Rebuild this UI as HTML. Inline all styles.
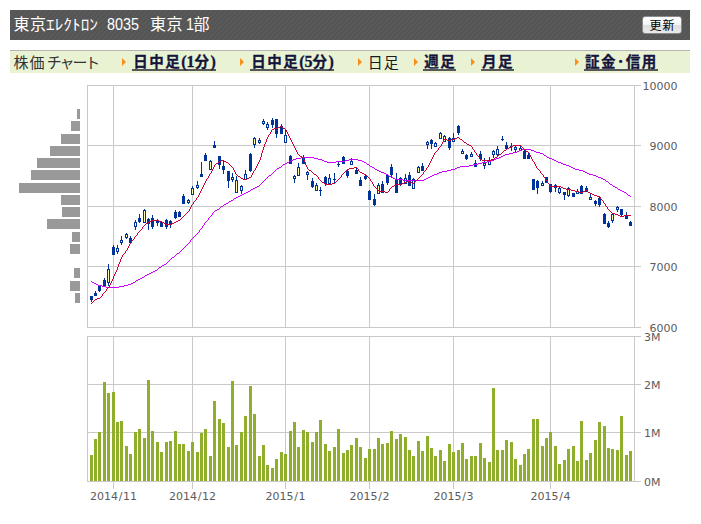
<!DOCTYPE html>
<html lang="ja"><head><meta charset="utf-8"><title>東京エレクトロン 8035 株価チャート</title>
<style>
html,body{margin:0;padding:0;background:#fff;}
body{width:701px;height:524px;position:relative;overflow:hidden;font-family:"Liberation Serif","Noto Sans CJK JP",serif;}
.hd{position:absolute;left:10px;top:10px;width:680px;height:30px;background:#595959;background-image:repeating-linear-gradient(135deg,rgba(0,0,0,0) 0,rgba(0,0,0,0) 2.83px,rgba(0,0,0,.11) 2.83px,rgba(0,0,0,.11) 3.536px);}
.hd span{position:absolute;top:0;line-height:30px;color:#fff;font-size:15px;white-space:nowrap;font-family:"Liberation Sans","Noto Sans CJK JP",sans-serif;}
.btn{position:absolute;left:632px;top:6px;width:38px;height:16px;letter-spacing:1px;text-indent:1px;border:1px solid #8a8a8a;border-radius:3px;background:linear-gradient(#ffffff,#f4f4f4 50%,#dedede 51%,#e9e9e9);color:#000;font-size:12px;line-height:18px;text-align:center;font-family:"Liberation Sans","Noto Sans CJK JP",sans-serif;}
.nav{position:absolute;left:10px;top:50px;width:680px;height:22px;border-top:1px solid #b5b5b5;background:#e9f3d3;}
.nav span{position:absolute;top:1.3px;line-height:20px;white-space:nowrap;font-size:14.5px;letter-spacing:1.5px;}
.nav .t{font-size:15px;letter-spacing:1px;margin-top:0.4px;color:#333;font-family:"Liberation Sans","Noto Sans CJK JP",sans-serif;}
.nav a{color:#14143c;font-weight:bold;-webkit-text-stroke:0.3px #14143c;text-decoration:none;display:inline-block;height:16.5px;border-bottom:2px solid #585858;padding-left:1px;margin-left:-1px;}
.nav a b{letter-spacing:0;font-size:16px;}
.nav i{position:absolute;width:0;height:0;border-left:4.4px solid #f7901a;border-top:4.3px solid transparent;border-bottom:4.3px solid transparent;top:7px;}
</style></head><body>
<div class="hd"><span style="left:3.5px;font-size:16px;letter-spacing:0.5px">東京</span><span style="left:35.6px;font-size:15px;transform-origin:0 50%;transform:scaleX(1.155)">ｴﾚｸﾄﾛﾝ</span><span style="left:97.2px;font-size:16px;transform-origin:0 50%;transform:scaleX(.9)">8035</span><span style="left:140px;font-size:16px;letter-spacing:0.5px">東京</span><span style="left:176px;font-size:16px;transform-origin:0 50%;transform:scaleX(.9)">1</span><span style="left:183.5px;font-size:16px">部</span><div class="btn">更新</div></div>
<div class="nav">
<span class="t" style="left:3.5px">株価</span><span class="t" style="left:36.8px;letter-spacing:-2.1px">チャート</span>
<i style="left:112px"></i><span style="left:123.2px"><a>日中足<b>(1</b>分<b>)</b></a></span>
<i style="left:230px"></i><span style="left:241.2px"><a>日中足<b>(5</b>分<b>)</b></a></span>
<i style="left:348px"></i><span class="t" style="left:357.8px;color:#1c1c1c">日足</span>
<i style="left:403.6px"></i><span style="left:414.3px"><a>週足</a></span>
<i style="left:461px"></i><span style="left:472px"><a>月足</a></span>
<i style="left:565.2px"></i><span style="left:575px"><a>証金･信用</a></span>
</div>
<svg width="701" height="524" viewBox="0 0 701 524" style="position:absolute;left:0;top:0">
<g shape-rendering="crispEdges" stroke="#c9c9c9" stroke-width="1" fill="none">
<line x1="87" y1="85.5" x2="641" y2="85.5"/>
<line x1="87" y1="145.5" x2="641" y2="145.5"/>
<line x1="87" y1="206.5" x2="641" y2="206.5"/>
<line x1="87" y1="266.5" x2="641" y2="266.5"/>
<line x1="87" y1="327.5" x2="641" y2="327.5"/>
<line x1="87" y1="336.5" x2="641" y2="336.5"/>
<line x1="87" y1="384.5" x2="641" y2="384.5"/>
<line x1="87" y1="432.5" x2="641" y2="432.5"/>
<line x1="87" y1="481.5" x2="641" y2="481.5"/>
<line x1="87.5" y1="85" x2="87.5" y2="328"/>
<line x1="87.5" y1="336" x2="87.5" y2="482"/>
<line x1="113.5" y1="85" x2="113.5" y2="328"/>
<line x1="113.5" y1="336" x2="113.5" y2="482"/>
<line x1="192.5" y1="85" x2="192.5" y2="328"/>
<line x1="192.5" y1="336" x2="192.5" y2="482"/>
<line x1="285.5" y1="85" x2="285.5" y2="328"/>
<line x1="285.5" y1="336" x2="285.5" y2="482"/>
<line x1="369.5" y1="85" x2="369.5" y2="328"/>
<line x1="369.5" y1="336" x2="369.5" y2="482"/>
<line x1="453.5" y1="85" x2="453.5" y2="328"/>
<line x1="453.5" y1="336" x2="453.5" y2="482"/>
<line x1="550.5" y1="85" x2="550.5" y2="328"/>
<line x1="550.5" y1="336" x2="550.5" y2="482"/>
<line x1="634.5" y1="85" x2="634.5" y2="328"/>
<line x1="634.5" y1="336" x2="634.5" y2="482"/>
<line x1="113.5" y1="481" x2="113.5" y2="489"/>
<line x1="192.5" y1="481" x2="192.5" y2="489"/>
<line x1="285.5" y1="481" x2="285.5" y2="489"/>
<line x1="369.5" y1="481" x2="369.5" y2="489"/>
<line x1="453.5" y1="481" x2="453.5" y2="489"/>
<line x1="550.5" y1="481" x2="550.5" y2="489"/>
</g>
<g shape-rendering="crispEdges" fill="#999999">
<rect x="77" y="109" width="3" height="10"/>
<rect x="71" y="121" width="9" height="10"/>
<rect x="61" y="134" width="19" height="10"/>
<rect x="50" y="146" width="30" height="10"/>
<rect x="37" y="158" width="43" height="10"/>
<rect x="31" y="170" width="49" height="10"/>
<rect x="19" y="183" width="61" height="10"/>
<rect x="61" y="195" width="19" height="10"/>
<rect x="62" y="207" width="18" height="10"/>
<rect x="47" y="219" width="33" height="10"/>
<rect x="72" y="232" width="8" height="10"/>
<rect x="70" y="244" width="10" height="10"/>
<rect x="74" y="268" width="6" height="10"/>
<rect x="70" y="281" width="10" height="10"/>
<rect x="75" y="293" width="5" height="10"/>
</g>
<g shape-rendering="crispEdges" fill="#8fae2b">
<rect x="90" y="455" width="3" height="26"/>
<rect x="94" y="439" width="3" height="42"/>
<rect x="98" y="432" width="3" height="49"/>
<rect x="103" y="382" width="3" height="99"/>
<rect x="107" y="393" width="3" height="88"/>
<rect x="112" y="392" width="3" height="89"/>
<rect x="116" y="422" width="3" height="59"/>
<rect x="120" y="421" width="3" height="60"/>
<rect x="125" y="446" width="3" height="35"/>
<rect x="129" y="454" width="3" height="27"/>
<rect x="134" y="432" width="3" height="49"/>
<rect x="138" y="429" width="3" height="52"/>
<rect x="143" y="438" width="3" height="43"/>
<rect x="147" y="380" width="3" height="101"/>
<rect x="151" y="431" width="3" height="50"/>
<rect x="156" y="442" width="3" height="39"/>
<rect x="160" y="452" width="3" height="29"/>
<rect x="165" y="442" width="3" height="39"/>
<rect x="169" y="441" width="3" height="40"/>
<rect x="174" y="431" width="3" height="50"/>
<rect x="178" y="444" width="3" height="37"/>
<rect x="182" y="444" width="3" height="37"/>
<rect x="187" y="451" width="3" height="30"/>
<rect x="191" y="442" width="3" height="39"/>
<rect x="196" y="452" width="3" height="29"/>
<rect x="200" y="433" width="3" height="48"/>
<rect x="204" y="429" width="3" height="52"/>
<rect x="209" y="456" width="3" height="25"/>
<rect x="213" y="401" width="3" height="80"/>
<rect x="218" y="419" width="3" height="62"/>
<rect x="222" y="423" width="3" height="58"/>
<rect x="227" y="447" width="3" height="34"/>
<rect x="231" y="381" width="3" height="100"/>
<rect x="235" y="445" width="3" height="36"/>
<rect x="240" y="432" width="3" height="49"/>
<rect x="244" y="416" width="3" height="65"/>
<rect x="249" y="386" width="3" height="95"/>
<rect x="253" y="414" width="3" height="67"/>
<rect x="258" y="456" width="3" height="25"/>
<rect x="262" y="445" width="3" height="36"/>
<rect x="266" y="465" width="3" height="16"/>
<rect x="271" y="468" width="3" height="13"/>
<rect x="275" y="459" width="3" height="22"/>
<rect x="280" y="452" width="3" height="29"/>
<rect x="284" y="454" width="3" height="27"/>
<rect x="289" y="431" width="3" height="50"/>
<rect x="293" y="422" width="3" height="59"/>
<rect x="297" y="447" width="3" height="34"/>
<rect x="302" y="430" width="3" height="51"/>
<rect x="306" y="432" width="3" height="49"/>
<rect x="311" y="442" width="3" height="39"/>
<rect x="315" y="432" width="3" height="49"/>
<rect x="319" y="420" width="3" height="61"/>
<rect x="324" y="444" width="3" height="37"/>
<rect x="328" y="451" width="3" height="30"/>
<rect x="333" y="447" width="3" height="34"/>
<rect x="337" y="429" width="3" height="52"/>
<rect x="342" y="453" width="3" height="28"/>
<rect x="346" y="450" width="3" height="31"/>
<rect x="350" y="445" width="3" height="36"/>
<rect x="355" y="438" width="3" height="43"/>
<rect x="359" y="447" width="3" height="34"/>
<rect x="364" y="458" width="3" height="23"/>
<rect x="368" y="449" width="3" height="32"/>
<rect x="373" y="449" width="3" height="32"/>
<rect x="377" y="438" width="3" height="43"/>
<rect x="381" y="444" width="3" height="37"/>
<rect x="386" y="443" width="3" height="38"/>
<rect x="390" y="431" width="3" height="50"/>
<rect x="395" y="439" width="3" height="42"/>
<rect x="399" y="434" width="3" height="47"/>
<rect x="404" y="437" width="3" height="44"/>
<rect x="408" y="450" width="3" height="31"/>
<rect x="412" y="456" width="3" height="25"/>
<rect x="417" y="441" width="3" height="40"/>
<rect x="421" y="451" width="3" height="30"/>
<rect x="426" y="436" width="3" height="45"/>
<rect x="430" y="448" width="3" height="33"/>
<rect x="434" y="456" width="3" height="25"/>
<rect x="439" y="450" width="3" height="31"/>
<rect x="443" y="461" width="3" height="20"/>
<rect x="448" y="444" width="3" height="37"/>
<rect x="452" y="452" width="3" height="29"/>
<rect x="457" y="450" width="3" height="31"/>
<rect x="461" y="443" width="3" height="38"/>
<rect x="465" y="459" width="3" height="22"/>
<rect x="470" y="456" width="3" height="25"/>
<rect x="474" y="456" width="3" height="25"/>
<rect x="479" y="443" width="3" height="38"/>
<rect x="483" y="458" width="3" height="23"/>
<rect x="488" y="462" width="3" height="19"/>
<rect x="492" y="388" width="3" height="93"/>
<rect x="496" y="450" width="3" height="31"/>
<rect x="501" y="450" width="3" height="31"/>
<rect x="505" y="440" width="3" height="41"/>
<rect x="510" y="442" width="3" height="39"/>
<rect x="514" y="459" width="3" height="22"/>
<rect x="519" y="465" width="3" height="16"/>
<rect x="523" y="454" width="3" height="27"/>
<rect x="527" y="449" width="3" height="32"/>
<rect x="532" y="419" width="3" height="62"/>
<rect x="536" y="419" width="3" height="62"/>
<rect x="541" y="446" width="3" height="35"/>
<rect x="545" y="438" width="3" height="43"/>
<rect x="549" y="432" width="3" height="49"/>
<rect x="554" y="446" width="3" height="35"/>
<rect x="558" y="464" width="3" height="17"/>
<rect x="563" y="460" width="3" height="21"/>
<rect x="567" y="449" width="3" height="32"/>
<rect x="572" y="446" width="3" height="35"/>
<rect x="576" y="461" width="3" height="20"/>
<rect x="580" y="421" width="3" height="60"/>
<rect x="585" y="460" width="3" height="21"/>
<rect x="589" y="453" width="3" height="28"/>
<rect x="594" y="440" width="3" height="41"/>
<rect x="598" y="422" width="3" height="59"/>
<rect x="603" y="426" width="3" height="55"/>
<rect x="607" y="448" width="3" height="33"/>
<rect x="611" y="449" width="3" height="32"/>
<rect x="616" y="450" width="3" height="31"/>
<rect x="620" y="416" width="3" height="65"/>
<rect x="625" y="455" width="3" height="26"/>
<rect x="629" y="451" width="3" height="30"/>
</g>
<g shape-rendering="crispEdges" fill="#003399">
<rect x="91" y="296" width="1" height="6"/>
<rect x="90" y="296" width="3" height="4"/>
<rect x="95" y="291" width="1" height="5"/>
<rect x="94" y="293" width="3" height="3"/>
<rect x="99" y="285" width="1" height="7"/>
<rect x="98" y="286" width="3" height="5"/>
<rect x="104" y="278" width="1" height="9"/>
<rect x="103" y="280" width="3" height="6"/>
<rect x="108" y="264" width="1" height="22"/>
<rect x="107" y="269" width="3" height="14"/>
<rect x="108" y="270" width="1" height="12" fill="#ffffb4"/>
<rect x="113" y="245" width="1" height="10"/>
<rect x="112" y="247" width="3" height="8"/>
<rect x="117" y="245" width="1" height="9"/>
<rect x="116" y="248" width="3" height="4"/>
<rect x="117" y="249" width="1" height="2" fill="#ffffb4"/>
<rect x="121" y="236" width="1" height="9"/>
<rect x="120" y="240" width="3" height="3"/>
<rect x="121" y="241" width="1" height="1" fill="#ffffb4"/>
<rect x="126" y="233" width="1" height="6"/>
<rect x="125" y="234" width="3" height="4"/>
<rect x="126" y="235" width="1" height="2" fill="#ffffb4"/>
<rect x="130" y="236" width="1" height="7"/>
<rect x="129" y="238" width="3" height="5"/>
<rect x="135" y="220" width="1" height="10"/>
<rect x="134" y="222" width="3" height="5"/>
<rect x="135" y="223" width="1" height="3" fill="#ffffb4"/>
<rect x="139" y="214" width="1" height="9"/>
<rect x="138" y="218" width="3" height="4"/>
<rect x="144" y="209" width="1" height="14"/>
<rect x="143" y="210" width="3" height="13"/>
<rect x="144" y="211" width="1" height="11" fill="#ffffb4"/>
<rect x="148" y="218" width="1" height="12"/>
<rect x="147" y="219" width="3" height="5"/>
<rect x="152" y="215" width="1" height="14"/>
<rect x="151" y="218" width="3" height="9"/>
<rect x="157" y="219" width="1" height="7"/>
<rect x="156" y="220" width="3" height="3"/>
<rect x="161" y="221" width="1" height="6"/>
<rect x="160" y="222" width="3" height="5"/>
<rect x="166" y="219" width="1" height="10"/>
<rect x="165" y="220" width="3" height="7"/>
<rect x="170" y="220" width="1" height="8"/>
<rect x="169" y="221" width="3" height="4"/>
<rect x="175" y="210" width="1" height="9"/>
<rect x="174" y="212" width="3" height="6"/>
<rect x="179" y="211" width="1" height="6"/>
<rect x="178" y="212" width="3" height="5"/>
<rect x="183" y="194" width="1" height="10"/>
<rect x="182" y="196" width="3" height="8"/>
<rect x="188" y="199" width="1" height="5"/>
<rect x="187" y="200" width="3" height="3"/>
<rect x="188" y="201" width="1" height="1" fill="#ffffb4"/>
<rect x="192" y="186" width="1" height="9"/>
<rect x="191" y="188" width="3" height="7"/>
<rect x="192" y="189" width="1" height="5" fill="#ffffb4"/>
<rect x="197" y="181" width="1" height="8"/>
<rect x="196" y="185" width="3" height="3"/>
<rect x="197" y="186" width="1" height="1" fill="#ffffb4"/>
<rect x="201" y="162" width="1" height="15"/>
<rect x="200" y="174" width="3" height="3"/>
<rect x="205" y="153" width="1" height="8"/>
<rect x="204" y="155" width="3" height="6"/>
<rect x="210" y="160" width="1" height="10"/>
<rect x="209" y="161" width="3" height="9"/>
<rect x="210" y="162" width="1" height="7" fill="#ffffb4"/>
<rect x="214" y="141" width="1" height="7"/>
<rect x="213" y="145" width="3" height="3"/>
<rect x="219" y="156" width="1" height="13"/>
<rect x="218" y="156" width="3" height="9"/>
<rect x="223" y="161" width="1" height="13"/>
<rect x="222" y="166" width="3" height="4"/>
<rect x="228" y="171" width="1" height="17"/>
<rect x="227" y="171" width="3" height="10"/>
<rect x="232" y="173" width="1" height="9"/>
<rect x="231" y="177" width="3" height="3"/>
<rect x="232" y="178" width="1" height="1" fill="#ffffb4"/>
<rect x="236" y="176" width="1" height="17"/>
<rect x="235" y="180" width="3" height="13"/>
<rect x="236" y="181" width="1" height="11" fill="#ffffb4"/>
<rect x="241" y="185" width="1" height="9"/>
<rect x="240" y="186" width="3" height="5"/>
<rect x="241" y="187" width="1" height="3" fill="#ffffb4"/>
<rect x="245" y="170" width="1" height="10"/>
<rect x="244" y="174" width="3" height="6"/>
<rect x="245" y="175" width="1" height="4" fill="#ffffb4"/>
<rect x="250" y="153" width="1" height="19"/>
<rect x="249" y="154" width="3" height="17"/>
<rect x="254" y="137" width="1" height="11"/>
<rect x="253" y="138" width="3" height="7"/>
<rect x="254" y="139" width="1" height="5" fill="#ffffb4"/>
<rect x="259" y="138" width="1" height="6"/>
<rect x="258" y="140" width="3" height="3"/>
<rect x="259" y="141" width="1" height="1" fill="#ffffb4"/>
<rect x="263" y="119" width="1" height="6"/>
<rect x="262" y="121" width="3" height="3"/>
<rect x="263" y="122" width="1" height="1" fill="#ffffb4"/>
<rect x="267" y="122" width="1" height="8"/>
<rect x="266" y="124" width="3" height="4"/>
<rect x="267" y="125" width="1" height="2" fill="#ffffb4"/>
<rect x="272" y="118" width="1" height="10"/>
<rect x="271" y="120" width="3" height="5"/>
<rect x="276" y="119" width="1" height="19"/>
<rect x="275" y="119" width="3" height="15"/>
<rect x="281" y="124" width="1" height="10"/>
<rect x="280" y="126" width="3" height="8"/>
<rect x="285" y="129" width="1" height="14"/>
<rect x="284" y="135" width="3" height="8"/>
<rect x="285" y="136" width="1" height="6" fill="#ffffb4"/>
<rect x="290" y="155" width="1" height="9"/>
<rect x="289" y="156" width="3" height="8"/>
<rect x="294" y="175" width="1" height="8"/>
<rect x="293" y="176" width="3" height="3"/>
<rect x="294" y="177" width="1" height="1" fill="#ffffb4"/>
<rect x="298" y="163" width="1" height="13"/>
<rect x="297" y="167" width="3" height="9"/>
<rect x="298" y="168" width="1" height="7" fill="#ffffb4"/>
<rect x="303" y="155" width="1" height="9"/>
<rect x="302" y="158" width="3" height="6"/>
<rect x="307" y="171" width="1" height="9"/>
<rect x="306" y="172" width="3" height="3"/>
<rect x="307" y="173" width="1" height="1" fill="#ffffb4"/>
<rect x="312" y="178" width="1" height="10"/>
<rect x="311" y="181" width="3" height="6"/>
<rect x="316" y="183" width="1" height="8"/>
<rect x="315" y="185" width="3" height="6"/>
<rect x="316" y="186" width="1" height="4" fill="#ffffb4"/>
<rect x="320" y="187" width="1" height="9"/>
<rect x="319" y="190" width="3" height="1"/>
<rect x="325" y="176" width="1" height="10"/>
<rect x="324" y="177" width="3" height="7"/>
<rect x="329" y="174" width="1" height="10"/>
<rect x="328" y="178" width="3" height="6"/>
<rect x="329" y="179" width="1" height="4" fill="#ffffb4"/>
<rect x="334" y="173" width="1" height="10"/>
<rect x="333" y="179" width="3" height="1"/>
<rect x="338" y="161" width="1" height="6"/>
<rect x="337" y="164" width="3" height="1"/>
<rect x="343" y="156" width="1" height="8"/>
<rect x="342" y="157" width="3" height="7"/>
<rect x="347" y="170" width="1" height="8"/>
<rect x="346" y="171" width="3" height="5"/>
<rect x="351" y="158" width="1" height="7"/>
<rect x="350" y="161" width="3" height="4"/>
<rect x="351" y="162" width="1" height="2" fill="#ffffb4"/>
<rect x="356" y="168" width="1" height="6"/>
<rect x="355" y="170" width="3" height="4"/>
<rect x="360" y="177" width="1" height="9"/>
<rect x="359" y="180" width="3" height="6"/>
<rect x="365" y="174" width="1" height="6"/>
<rect x="364" y="176" width="3" height="3"/>
<rect x="369" y="190" width="1" height="10"/>
<rect x="368" y="191" width="3" height="9"/>
<rect x="374" y="194" width="1" height="12"/>
<rect x="373" y="199" width="3" height="6"/>
<rect x="378" y="183" width="1" height="11"/>
<rect x="377" y="185" width="3" height="9"/>
<rect x="378" y="186" width="1" height="7" fill="#ffffb4"/>
<rect x="382" y="181" width="1" height="12"/>
<rect x="381" y="184" width="3" height="9"/>
<rect x="387" y="174" width="1" height="11"/>
<rect x="386" y="175" width="3" height="8"/>
<rect x="391" y="164" width="1" height="13"/>
<rect x="390" y="167" width="3" height="8"/>
<rect x="396" y="173" width="1" height="20"/>
<rect x="395" y="180" width="3" height="13"/>
<rect x="400" y="177" width="1" height="9"/>
<rect x="399" y="178" width="3" height="6"/>
<rect x="405" y="174" width="1" height="10"/>
<rect x="404" y="178" width="3" height="6"/>
<rect x="405" y="179" width="1" height="4" fill="#ffffb4"/>
<rect x="409" y="172" width="1" height="14"/>
<rect x="408" y="175" width="3" height="11"/>
<rect x="413" y="178" width="1" height="11"/>
<rect x="412" y="179" width="3" height="10"/>
<rect x="413" y="180" width="1" height="8" fill="#ffffb4"/>
<rect x="418" y="166" width="1" height="7"/>
<rect x="417" y="167" width="3" height="6"/>
<rect x="418" y="168" width="1" height="4" fill="#ffffb4"/>
<rect x="422" y="163" width="1" height="8"/>
<rect x="421" y="166" width="3" height="5"/>
<rect x="427" y="141" width="1" height="8"/>
<rect x="426" y="142" width="3" height="3"/>
<rect x="427" y="143" width="1" height="1" fill="#ffffb4"/>
<rect x="431" y="139" width="1" height="10"/>
<rect x="430" y="140" width="3" height="4"/>
<rect x="435" y="142" width="1" height="5"/>
<rect x="434" y="143" width="3" height="4"/>
<rect x="435" y="144" width="1" height="2" fill="#ffffb4"/>
<rect x="440" y="132" width="1" height="7"/>
<rect x="439" y="133" width="3" height="6"/>
<rect x="440" y="134" width="1" height="4" fill="#ffffb4"/>
<rect x="444" y="135" width="1" height="7"/>
<rect x="443" y="136" width="3" height="6"/>
<rect x="444" y="137" width="1" height="4" fill="#ffffb4"/>
<rect x="449" y="137" width="1" height="13"/>
<rect x="448" y="138" width="3" height="10"/>
<rect x="453" y="133" width="1" height="9"/>
<rect x="452" y="138" width="3" height="4"/>
<rect x="453" y="139" width="1" height="2" fill="#ffffb4"/>
<rect x="458" y="125" width="1" height="10"/>
<rect x="457" y="126" width="3" height="7"/>
<rect x="462" y="149" width="1" height="5"/>
<rect x="461" y="151" width="3" height="3"/>
<rect x="462" y="152" width="1" height="1" fill="#ffffb4"/>
<rect x="466" y="154" width="1" height="6"/>
<rect x="465" y="155" width="3" height="4"/>
<rect x="471" y="152" width="1" height="5"/>
<rect x="470" y="154" width="3" height="3"/>
<rect x="471" y="155" width="1" height="1" fill="#ffffb4"/>
<rect x="475" y="160" width="1" height="7"/>
<rect x="474" y="163" width="3" height="4"/>
<rect x="480" y="151" width="1" height="10"/>
<rect x="479" y="154" width="3" height="5"/>
<rect x="484" y="158" width="1" height="11"/>
<rect x="483" y="163" width="3" height="3"/>
<rect x="484" y="164" width="1" height="1" fill="#ffffb4"/>
<rect x="489" y="157" width="1" height="8"/>
<rect x="488" y="161" width="3" height="4"/>
<rect x="489" y="162" width="1" height="2" fill="#ffffb4"/>
<rect x="493" y="150" width="1" height="8"/>
<rect x="492" y="151" width="3" height="4"/>
<rect x="493" y="152" width="1" height="2" fill="#ffffb4"/>
<rect x="497" y="146" width="1" height="10"/>
<rect x="496" y="149" width="3" height="6"/>
<rect x="497" y="150" width="1" height="4" fill="#ffffb4"/>
<rect x="502" y="136" width="1" height="5"/>
<rect x="501" y="139" width="3" height="1"/>
<rect x="506" y="142" width="1" height="7"/>
<rect x="505" y="145" width="3" height="4"/>
<rect x="511" y="143" width="1" height="8"/>
<rect x="510" y="146" width="3" height="1"/>
<rect x="515" y="145" width="1" height="7"/>
<rect x="514" y="147" width="3" height="3"/>
<rect x="515" y="148" width="1" height="1" fill="#ffffb4"/>
<rect x="520" y="146" width="1" height="5"/>
<rect x="519" y="148" width="3" height="3"/>
<rect x="520" y="149" width="1" height="1" fill="#ffffb4"/>
<rect x="524" y="149" width="1" height="10"/>
<rect x="523" y="151" width="3" height="8"/>
<rect x="528" y="152" width="1" height="7"/>
<rect x="527" y="155" width="3" height="4"/>
<rect x="533" y="179" width="1" height="11"/>
<rect x="532" y="179" width="3" height="11"/>
<rect x="537" y="180" width="1" height="14"/>
<rect x="536" y="181" width="3" height="7"/>
<rect x="542" y="181" width="1" height="5"/>
<rect x="541" y="183" width="3" height="3"/>
<rect x="542" y="184" width="1" height="1" fill="#ffffb4"/>
<rect x="546" y="177" width="1" height="6"/>
<rect x="545" y="177" width="3" height="6"/>
<rect x="550" y="184" width="1" height="9"/>
<rect x="549" y="184" width="3" height="8"/>
<rect x="555" y="184" width="1" height="8"/>
<rect x="554" y="185" width="3" height="3"/>
<rect x="559" y="187" width="1" height="7"/>
<rect x="558" y="188" width="3" height="5"/>
<rect x="559" y="189" width="1" height="3" fill="#ffffb4"/>
<rect x="564" y="192" width="1" height="8"/>
<rect x="563" y="192" width="3" height="3"/>
<rect x="568" y="187" width="1" height="10"/>
<rect x="567" y="188" width="3" height="8"/>
<rect x="568" y="189" width="1" height="6" fill="#ffffb4"/>
<rect x="573" y="193" width="1" height="4"/>
<rect x="572" y="193" width="3" height="4"/>
<rect x="577" y="189" width="1" height="5"/>
<rect x="576" y="191" width="3" height="3"/>
<rect x="577" y="192" width="1" height="1" fill="#ffffb4"/>
<rect x="581" y="185" width="1" height="9"/>
<rect x="580" y="186" width="3" height="8"/>
<rect x="586" y="186" width="1" height="6"/>
<rect x="585" y="188" width="3" height="4"/>
<rect x="590" y="193" width="1" height="7"/>
<rect x="589" y="197" width="3" height="3"/>
<rect x="590" y="198" width="1" height="1" fill="#ffffb4"/>
<rect x="595" y="200" width="1" height="6"/>
<rect x="594" y="201" width="3" height="3"/>
<rect x="599" y="196" width="1" height="11"/>
<rect x="598" y="198" width="3" height="7"/>
<rect x="604" y="213" width="1" height="11"/>
<rect x="603" y="214" width="3" height="10"/>
<rect x="608" y="221" width="1" height="7"/>
<rect x="607" y="223" width="3" height="4"/>
<rect x="612" y="213" width="1" height="10"/>
<rect x="611" y="214" width="3" height="7"/>
<rect x="612" y="215" width="1" height="5" fill="#ffffb4"/>
<rect x="617" y="206" width="1" height="6"/>
<rect x="616" y="207" width="3" height="3"/>
<rect x="617" y="208" width="1" height="1" fill="#ffffb4"/>
<rect x="621" y="209" width="1" height="7"/>
<rect x="620" y="209" width="3" height="6"/>
<rect x="626" y="212" width="1" height="7"/>
<rect x="625" y="215" width="3" height="4"/>
<rect x="630" y="221" width="1" height="5"/>
<rect x="629" y="222" width="3" height="4"/>
</g>
<path d="M522 149h9v1h-9zM519 150h3v1h-3zM531 150h3v1h-3zM517 151h2v1h-2zM534 151h2v1h-2zM513 152h4v1h-4zM536 152h4v1h-4zM509 153h4v1h-4zM540 153h3v1h-3zM505 154h4v1h-4zM543 154h1v1h-1zM503 155h2v1h-2zM544 155h2v1h-2zM501 156h2v1h-2zM546 156h1v1h-1zM301 157h13v1h-13zM499 157h2v1h-2zM547 157h2v1h-2zM296 158h5v1h-5zM314 158h4v1h-4zM496 158h3v1h-3zM549 158h3v1h-3zM293 159h3v1h-3zM318 159h4v1h-4zM349 159h9v1h-9zM494 159h2v1h-2zM552 159h2v1h-2zM291 160h2v1h-2zM322 160h2v1h-2zM345 160h4v1h-4zM358 160h4v1h-4zM491 160h3v1h-3zM554 160h2v1h-2zM289 161h2v1h-2zM324 161h3v1h-3zM336 161h9v1h-9zM362 161h2v1h-2zM487 161h4v1h-4zM556 161h2v1h-2zM287 162h2v1h-2zM327 162h9v1h-9zM364 162h2v1h-2zM482 162h5v1h-5zM558 162h3v1h-3zM285 163h2v1h-2zM366 163h1v1h-1zM478 163h4v1h-4zM561 163h2v1h-2zM283 164h2v1h-2zM367 164h2v1h-2zM473 164h5v1h-5zM563 164h3v1h-3zM282 165h1v1h-1zM369 165h1v1h-1zM469 165h4v1h-4zM566 165h3v1h-3zM281 166h1v1h-1zM370 166h2v1h-2zM460 166h9v1h-9zM569 166h2v1h-2zM279 167h2v1h-2zM372 167h2v1h-2zM457 167h3v1h-3zM571 167h2v1h-2zM277 168h2v1h-2zM374 168h1v1h-1zM455 168h2v1h-2zM573 168h2v1h-2zM276 169h1v1h-1zM375 169h2v1h-2zM451 169h4v1h-4zM575 169h4v1h-4zM275 170h1v1h-1zM377 170h2v1h-2zM447 170h4v1h-4zM579 170h4v1h-4zM274 171h1v1h-1zM379 171h2v1h-2zM442 171h5v1h-5zM583 171h2v1h-2zM273 172h1v1h-1zM381 172h3v1h-3zM439 172h3v1h-3zM585 172h2v1h-2zM272 173h1v1h-1zM384 173h2v1h-2zM437 173h2v1h-2zM587 173h2v1h-2zM271 174h1v1h-1zM386 174h2v1h-2zM434 174h3v1h-3zM589 174h4v1h-4zM269 175h2v1h-2zM388 175h1v1h-1zM432 175h2v1h-2zM593 175h3v1h-3zM268 176h1v1h-1zM389 176h2v1h-2zM430 176h2v1h-2zM596 176h2v1h-2zM267 177h1v1h-1zM391 177h2v1h-2zM428 177h2v1h-2zM598 177h3v1h-3zM266 178h1v1h-1zM393 178h2v1h-2zM426 178h2v1h-2zM601 178h2v1h-2zM265 179h1v1h-1zM395 179h8v1h-8zM424 179h2v1h-2zM603 179h2v1h-2zM264 180h1v1h-1zM403 180h21v1h-21zM605 180h1v1h-1zM263 181h1v1h-1zM606 181h2v1h-2zM262 182h1v1h-1zM608 182h1v1h-1zM261 183h1v1h-1zM609 183h1v1h-1zM260 184h1v1h-1zM610 184h2v1h-2zM259 185h1v1h-1zM612 185h1v1h-1zM257 186h2v1h-2zM613 186h2v1h-2zM255 187h2v1h-2zM615 187h2v1h-2zM253 188h2v1h-2zM617 188h1v1h-1zM251 189h2v1h-2zM618 189h2v1h-2zM250 190h1v1h-1zM620 190h2v1h-2zM248 191h2v1h-2zM622 191h2v1h-2zM246 192h2v1h-2zM624 192h2v1h-2zM244 193h2v1h-2zM626 193h1v1h-1zM242 194h2v1h-2zM627 194h1v1h-1zM240 195h2v1h-2zM628 195h2v1h-2zM238 196h2v1h-2zM630 196h1v1h-1zM236 197h2v1h-2zM234 198h2v1h-2zM233 199h1v1h-1zM231 200h2v1h-2zM229 201h2v1h-2zM228 202h1v1h-1zM226 203h2v1h-2zM224 204h2v1h-2zM223 205h1v1h-1zM221 206h2v1h-2zM220 207h1v1h-1zM219 208h1v1h-1zM217 209h2v1h-2zM215 210h2v1h-2zM214 211h1v1h-1zM213 212h1v1h-1zM212 213h1v2h-1zM211 215h1v1h-1zM210 216h1v1h-1zM209 217h1v1h-1zM208 218h1v2h-1zM207 220h1v1h-1zM206 221h1v1h-1zM205 222h1v1h-1zM204 223h1v2h-1zM203 225h1v1h-1zM202 226h1v2h-1zM201 228h1v1h-1zM200 229h1v1h-1zM199 230h1v2h-1zM198 232h1v1h-1zM197 233h1v1h-1zM196 234h1v1h-1zM195 235h1v1h-1zM194 236h1v1h-1zM193 237h1v1h-1zM192 238h1v1h-1zM191 239h1v1h-1zM190 240h1v2h-1zM189 242h1v1h-1zM188 243h1v1h-1zM187 244h1v1h-1zM186 245h1v1h-1zM185 246h1v1h-1zM184 247h1v1h-1zM183 248h1v1h-1zM182 249h1v1h-1zM181 250h1v1h-1zM180 251h1v1h-1zM179 252h1v1h-1zM177 253h2v1h-2zM176 254h1v1h-1zM175 255h1v1h-1zM174 256h1v1h-1zM172 257h2v1h-2zM171 258h1v1h-1zM170 259h1v1h-1zM169 260h1v1h-1zM168 261h1v1h-1zM167 262h1v1h-1zM166 263h1v1h-1zM164 264h2v1h-2zM162 265h2v1h-2zM161 266h1v1h-1zM159 267h2v1h-2zM158 268h1v1h-1zM157 269h1v1h-1zM155 270h2v1h-2zM153 271h2v1h-2zM151 272h2v1h-2zM149 273h2v1h-2zM147 274h2v1h-2zM145 275h2v1h-2zM144 276h1v1h-1zM142 277h2v1h-2zM140 278h2v1h-2zM138 279h2v1h-2zM136 280h2v1h-2zM91 281h1v1h-1zM135 281h1v1h-1zM92 282h2v1h-2zM133 282h2v1h-2zM94 283h2v1h-2zM131 283h2v1h-2zM96 284h2v1h-2zM128 284h3v1h-3zM98 285h4v1h-4zM124 285h4v1h-4zM102 286h4v1h-4zM119 286h5v1h-5zM106 287h13v1h-13z" fill="#cc00ff" shape-rendering="crispEdges"/>
<path d="M280 126h2v1h-2zM278 127h2v1h-2zM282 127h1v1h-1zM274 128h4v1h-4zM283 128h2v1h-2zM272 129h2v1h-2zM285 129h1v1h-1zM271 130h1v2h-1zM286 130h1v2h-1zM270 132h1v2h-1zM287 132h1v2h-1zM269 134h1v1h-1zM288 134h1v2h-1zM268 135h1v2h-1zM289 136h1v2h-1zM457 137h2v1h-2zM267 137h1v2h-1zM455 138h2v1h-2zM459 138h1v1h-1zM290 138h1v2h-1zM444 139h3v1h-3zM451 139h4v1h-4zM460 139h2v1h-2zM266 139h1v3h-1zM447 140h4v1h-4zM462 140h1v1h-1zM291 140h1v2h-1zM443 140h1v2h-1zM463 141h1v1h-1zM464 142h2v1h-2zM265 142h1v2h-1zM292 142h1v2h-1zM442 142h1v2h-1zM466 143h1v1h-1zM467 144h2v1h-2zM293 144h1v2h-1zM441 144h1v2h-1zM264 144h1v3h-1zM469 145h2v1h-2zM513 145h8v1h-8zM440 146h1v1h-1zM471 146h1v1h-1zM511 146h2v1h-2zM521 146h1v1h-1zM294 146h1v2h-1zM439 147h1v1h-1zM509 147h2v1h-2zM522 147h1v1h-1zM472 147h1v2h-1zM263 147h1v3h-1zM507 148h2v1h-2zM523 148h1v1h-1zM295 148h1v2h-1zM438 148h1v2h-1zM473 149h1v1h-1zM506 149h1v1h-1zM524 149h1v1h-1zM437 150h1v1h-1zM504 150h2v1h-2zM525 150h1v1h-1zM296 150h1v2h-1zM474 150h1v2h-1zM262 150h1v3h-1zM436 151h1v1h-1zM503 151h1v1h-1zM526 151h2v1h-2zM435 152h1v1h-1zM475 152h1v1h-1zM502 152h1v1h-1zM528 152h1v1h-1zM297 152h1v2h-1zM501 153h1v1h-1zM434 153h1v2h-1zM476 153h1v2h-1zM529 153h1v2h-1zM261 153h1v4h-1zM298 154h1v1h-1zM499 154h2v1h-2zM299 155h1v1h-1zM477 155h1v1h-1zM498 155h1v1h-1zM433 155h1v2h-1zM530 155h1v2h-1zM300 156h2v1h-2zM478 156h1v1h-1zM497 156h1v1h-1zM302 157h1v1h-1zM495 157h2v1h-2zM432 157h1v2h-1zM479 157h1v2h-1zM531 157h1v2h-1zM260 157h1v3h-1zM494 158h1v1h-1zM303 158h1v2h-1zM480 159h2v1h-2zM491 159h3v1h-3zM431 159h1v2h-1zM532 159h1v2h-1zM221 160h3v1h-3zM482 160h9v1h-9zM259 160h1v2h-1zM304 160h1v2h-1zM219 161h2v1h-2zM224 161h2v1h-2zM533 161h1v1h-1zM430 161h1v2h-1zM218 162h1v1h-1zM226 162h2v1h-2zM258 162h1v2h-1zM534 162h1v2h-1zM305 162h1v3h-1zM216 163h2v1h-2zM228 163h1v1h-1zM429 163h1v2h-1zM215 164h1v1h-1zM229 164h1v1h-1zM257 164h1v2h-1zM535 164h1v2h-1zM230 165h1v1h-1zM214 165h1v2h-1zM306 165h1v2h-1zM428 165h1v2h-1zM231 166h1v1h-1zM256 166h1v2h-1zM536 166h1v2h-1zM232 167h1v1h-1zM354 167h3v1h-3zM427 167h1v1h-1zM213 167h1v2h-1zM307 167h1v2h-1zM349 168h5v1h-5zM357 168h1v1h-1zM537 168h1v1h-1zM233 168h1v2h-1zM255 168h1v2h-1zM426 168h1v2h-1zM308 169h1v1h-1zM347 169h2v1h-2zM538 169h1v1h-1zM212 169h1v2h-1zM358 169h1v2h-1zM254 170h1v1h-1zM309 170h2v1h-2zM346 170h1v1h-1zM425 170h1v1h-1zM539 170h1v1h-1zM234 170h1v2h-1zM311 171h1v1h-1zM345 171h1v1h-1zM359 171h1v1h-1zM424 171h1v1h-1zM211 171h1v2h-1zM253 171h1v2h-1zM540 171h1v2h-1zM312 172h1v1h-1zM344 172h1v1h-1zM360 172h2v1h-2zM235 172h1v2h-1zM423 172h1v2h-1zM210 173h1v1h-1zM313 173h1v1h-1zM343 173h1v1h-1zM362 173h2v1h-2zM541 173h1v1h-1zM252 173h1v2h-1zM236 174h1v1h-1zM314 174h2v1h-2zM342 174h1v1h-1zM364 174h2v1h-2zM422 174h1v1h-1zM542 174h1v1h-1zM209 174h1v2h-1zM237 175h1v1h-1zM316 175h1v1h-1zM366 175h1v1h-1zM421 175h1v1h-1zM251 175h1v2h-1zM341 175h1v2h-1zM543 175h1v2h-1zM238 176h2v1h-2zM317 176h1v1h-1zM367 176h1v1h-1zM420 176h1v1h-1zM208 176h1v2h-1zM240 177h1v1h-1zM249 177h2v1h-2zM340 177h1v1h-1zM368 177h1v1h-1zM419 177h1v1h-1zM544 177h1v1h-1zM318 177h1v2h-1zM207 178h1v1h-1zM241 178h2v1h-2zM247 178h2v1h-2zM339 178h1v1h-1zM369 178h1v1h-1zM418 178h1v1h-1zM545 178h1v2h-1zM243 179h4v1h-4zM319 179h1v1h-1zM338 179h1v1h-1zM417 179h1v1h-1zM206 179h1v2h-1zM370 179h1v2h-1zM320 180h1v1h-1zM337 180h1v1h-1zM416 180h1v1h-1zM546 180h1v1h-1zM321 181h1v1h-1zM336 181h1v1h-1zM371 181h1v1h-1zM407 181h3v1h-3zM415 181h1v1h-1zM205 181h1v2h-1zM547 181h1v2h-1zM322 182h2v1h-2zM335 182h1v1h-1zM404 182h3v1h-3zM410 182h2v1h-2zM414 182h1v1h-1zM372 182h1v2h-1zM324 183h1v1h-1zM332 183h3v1h-3zM402 183h2v1h-2zM412 183h2v1h-2zM548 183h1v1h-1zM204 183h1v2h-1zM325 184h7v1h-7zM396 184h6v1h-6zM373 184h1v2h-1zM549 184h1v2h-1zM394 185h2v1h-2zM203 185h1v2h-1zM374 186h1v1h-1zM392 186h2v1h-2zM550 186h11v1h-11zM375 187h1v1h-1zM391 187h1v1h-1zM561 187h2v1h-2zM202 187h1v2h-1zM376 188h1v1h-1zM390 188h1v1h-1zM563 188h3v1h-3zM377 189h1v1h-1zM566 189h5v1h-5zM201 189h1v2h-1zM389 189h1v2h-1zM378 190h2v1h-2zM571 190h4v1h-4zM585 190h2v1h-2zM380 191h5v1h-5zM388 191h1v1h-1zM575 191h4v1h-4zM583 191h2v1h-2zM587 191h1v1h-1zM200 191h1v2h-1zM385 192h3v1h-3zM579 192h4v1h-4zM588 192h2v1h-2zM590 193h2v1h-2zM199 193h1v2h-1zM592 194h2v1h-2zM594 195h3v1h-3zM198 195h1v2h-1zM597 196h3v1h-3zM197 197h1v1h-1zM600 197h1v2h-1zM196 198h1v2h-1zM601 199h1v1h-1zM195 200h1v1h-1zM602 200h1v1h-1zM194 201h1v1h-1zM603 201h1v2h-1zM193 202h1v2h-1zM604 203h1v1h-1zM192 204h1v1h-1zM605 204h1v2h-1zM191 205h1v2h-1zM606 206h1v1h-1zM190 207h1v2h-1zM607 207h1v2h-1zM608 209h1v1h-1zM189 209h1v2h-1zM609 210h1v1h-1zM188 211h1v1h-1zM610 211h1v1h-1zM187 212h1v1h-1zM611 212h1v1h-1zM186 213h1v1h-1zM612 213h3v1h-3zM185 214h1v1h-1zM615 214h3v1h-3zM184 215h1v1h-1zM618 215h2v1h-2zM624 215h7v1h-7zM183 216h1v1h-1zM620 216h4v1h-4zM182 217h1v1h-1zM181 218h1v1h-1zM180 219h1v1h-1zM151 220h8v1h-8zM178 220h2v1h-2zM149 221h2v1h-2zM159 221h3v1h-3zM176 221h2v1h-2zM148 222h1v1h-1zM162 222h2v1h-2zM174 222h2v1h-2zM146 223h2v1h-2zM164 223h2v1h-2zM172 223h2v1h-2zM145 224h1v1h-1zM166 224h6v1h-6zM144 225h1v1h-1zM143 226h1v1h-1zM142 227h1v2h-1zM141 229h1v1h-1zM140 230h1v1h-1zM139 231h1v1h-1zM138 232h1v1h-1zM137 233h1v2h-1zM136 235h1v1h-1zM135 236h1v1h-1zM134 237h1v2h-1zM133 239h1v1h-1zM132 240h1v1h-1zM131 241h1v2h-1zM130 243h1v1h-1zM129 244h1v2h-1zM128 246h1v2h-1zM127 248h1v2h-1zM126 250h1v1h-1zM125 251h1v2h-1zM124 253h1v1h-1zM123 254h1v1h-1zM122 255h1v2h-1zM121 257h1v2h-1zM120 259h1v3h-1zM119 262h1v2h-1zM118 264h1v3h-1zM117 267h1v3h-1zM116 270h1v2h-1zM115 272h1v2h-1zM114 274h1v2h-1zM113 276h1v3h-1zM112 279h1v2h-1zM111 281h1v2h-1zM110 283h1v2h-1zM109 285h1v2h-1zM108 287h1v1h-1zM107 288h1v1h-1zM106 289h1v2h-1zM105 291h1v1h-1zM104 292h1v1h-1zM103 293h1v1h-1zM102 294h1v2h-1zM101 296h1v1h-1zM100 297h1v1h-1zM97 298h3v1h-3zM95 299h2v1h-2zM94 300h1v1h-1zM93 301h1v1h-1zM92 302h1v1h-1zM91 303h1v1h-1z" fill="#cc0033" shape-rendering="crispEdges"/>
<g font-family="'DejaVu Sans','Liberation Sans',sans-serif" font-size="11" fill="#5c5c5c">
<text x="677.4" y="89.5" text-anchor="end">10000</text>
<text x="677.4" y="149.5" text-anchor="end">9000</text>
<text x="677.4" y="210.5" text-anchor="end">8000</text>
<text x="677.4" y="270.5" text-anchor="end">7000</text>
<text x="677.4" y="331.5" text-anchor="end">6000</text>
<text x="644" y="340.5">3M</text>
<text x="644" y="388.5">2M</text>
<text x="644" y="436.5">1M</text>
<text x="644" y="485.5">0M</text>
<text x="113.5" y="500" text-anchor="middle">2014<tspan dx="0.6">/</tspan><tspan dx="0.6">11</tspan></text>
<text x="192.5" y="500" text-anchor="middle">2014<tspan dx="0.6">/</tspan><tspan dx="0.6">12</tspan></text>
<text x="285.5" y="500" text-anchor="middle">2015<tspan dx="0.6">/</tspan><tspan dx="0.6">1</tspan></text>
<text x="369.5" y="500" text-anchor="middle">2015<tspan dx="0.6">/</tspan><tspan dx="0.6">2</tspan></text>
<text x="453.5" y="500" text-anchor="middle">2015<tspan dx="0.6">/</tspan><tspan dx="0.6">3</tspan></text>
<text x="550.5" y="500" text-anchor="middle">2015<tspan dx="0.6">/</tspan><tspan dx="0.6">4</tspan></text>
</g>
</svg>
</body></html>
